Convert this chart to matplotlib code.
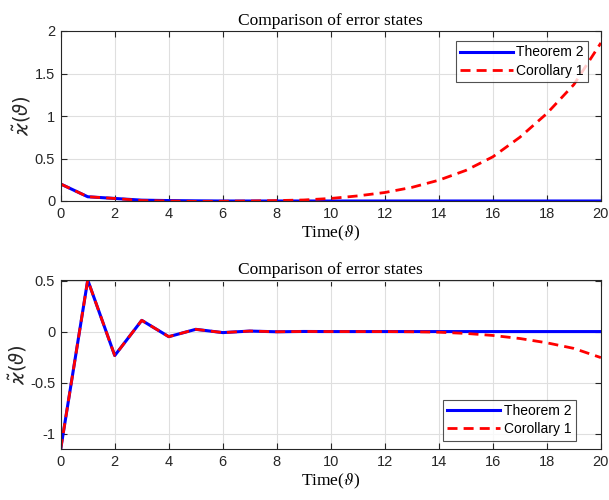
import matplotlib
matplotlib.use("Agg")
import matplotlib.pyplot as plt
import numpy as np

plt.rcParams["font.family"] = "Liberation Sans"
plt.rcParams["axes.unicode_minus"] = False
plt.rcParams["mathtext.fontset"] = "stix"

t = np.arange(0, 21)

# top panel: error state 1
thm2_top = [0.2, 0.05, 0.03, 0.01, 0.005, 0.002, 0.0, 0.0, 0.0, 0.0, 0.0,
            0.0, 0.0, 0.0, 0.0, 0.0, 0.0, 0.0, 0.0, 0.0, 0.0]
cor1_top = [0.2, 0.05, 0.03, 0.005, 0.0, -0.005, -0.003, 0.0, 0.005, 0.012, 0.03,
            0.06, 0.1, 0.16, 0.245, 0.36, 0.52, 0.75, 1.03, 1.37, 1.86]

# bottom panel: error state 2
thm2_bot = [-1.15, 0.505, -0.235, 0.11, -0.05, 0.022, -0.01, 0.005, -0.002, 0.001, 0.0,
            0.0, 0.0, 0.0, 0.0, 0.0, 0.0, 0.0, 0.0, 0.0, 0.0]
cor1_bot = [-1.15, 0.505, -0.235, 0.11, -0.05, 0.022, -0.01, 0.005, -0.002, 0.001, 0.0,
            0.0, 0.0, -0.002, -0.006, -0.018, -0.038, -0.068, -0.11, -0.165, -0.255]

xticks = np.arange(0, 21, 2)
yticks_top = [0, 0.5, 1, 1.5, 2]
ytick_labels_top = ["0", "0.5", "1", "1.5", "2"]
yticks_bot = [-1, -0.5, 0, 0.5]
ytick_labels_bot = ["-1", "-0.5", "0", "0.5"]

fig = plt.figure(figsize=(6.09, 5.0), dpi=100)
ax1 = fig.add_axes([0.0997, 0.598, 0.887, 0.340])
ax2 = fig.add_axes([0.0997, 0.102, 0.887, 0.339])


def style(ax, ylim, yticks, ylabels, legend_loc, bbox):
    ax.set_xlim(0, 20)
    ax.set_ylim(*ylim)
    ax.set_xticks(xticks)
    ax.set_xticklabels([str(v) for v in xticks], fontsize=10.5, color="#262626")
    ax.set_yticks(yticks)
    ax.set_yticklabels(ylabels, fontsize=10.5, color="#262626")
    ax.tick_params(direction="in", length=4, width=0.8, top=True, right=True,
                   colors="#262626", pad=4)
    ax.grid(True, color="#dfdfdf", lw=0.8)
    ax.set_axisbelow(True)
    for s in ax.spines.values():
        s.set_color("#262626")
        s.set_linewidth(0.8)
    ax.set_title("Comparison of error states", family="Liberation Serif",
                 fontsize=12.5, pad=4)
    ax.set_xlabel(r"Time($\vartheta$)", family="Liberation Serif", fontsize=12.5,
                  labelpad=2)
    ax.set_ylabel(r"$\tilde{\varkappa}(\vartheta)$", fontsize=14, labelpad=1,
                  math_fontfamily="dejavusans", color="#262626")
    leg = ax.legend(loc=legend_loc, bbox_to_anchor=bbox, fontsize=10,
                    frameon=True, fancybox=False, borderpad=0.3,
                    handlelength=3.8, handletextpad=0.25, labelspacing=0.3,
                    borderaxespad=0)
    leg.get_frame().set_edgecolor("#262626")
    leg.get_frame().set_linewidth(0.8)


ax1.plot(t, thm2_top, color="#0000ff", lw=2.2, label="Theorem 2")
ax1.plot(t, cor1_top, color="#ff0000", lw=2.0, ls=(0, (3.6, 2.2)), label="Corollary 1")
style(ax1, (0, 2), yticks_top, ytick_labels_top, "upper right", (0.976, 0.94))

ax2.plot(t, thm2_bot, color="#0000ff", lw=2.2, label="Theorem 2")
ax2.plot(t, cor1_bot, color="#ff0000", lw=2.0, ls=(0, (3.6, 2.2)), label="Corollary 1")
style(ax2, (-1.15, 0.51), yticks_bot, ytick_labels_bot, "lower right", (0.953, 0.05))

fig.savefig("out.png", dpi=100)
